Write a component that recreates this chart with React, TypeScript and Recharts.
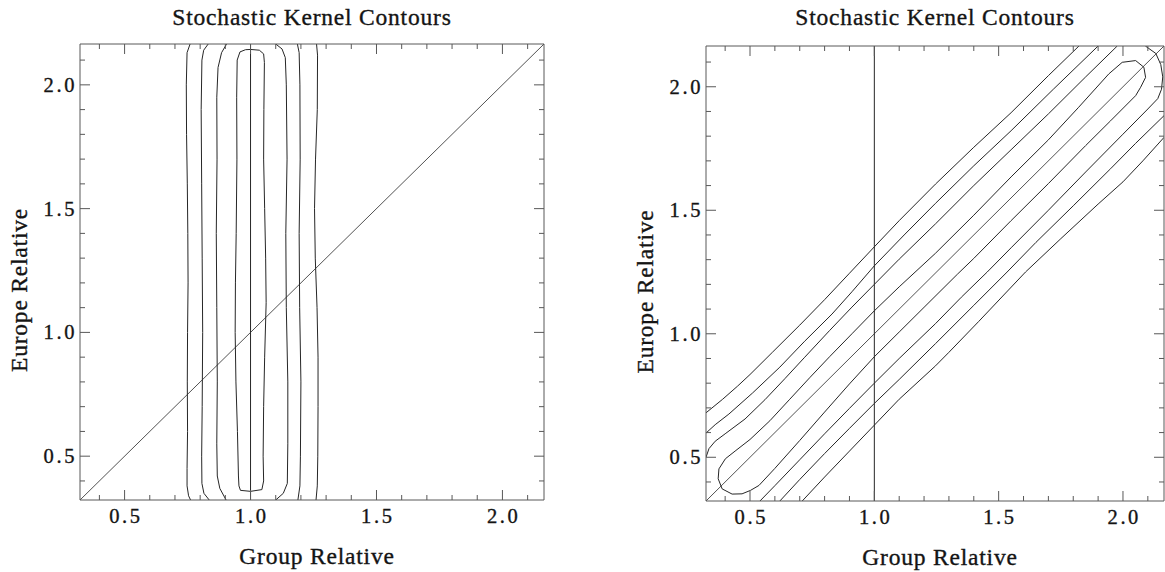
import React from 'react'
import { ComposedChart, Line, XAxis, YAxis, ReferenceLine } from 'recharts'

// both axes share the same range in both panels
const axisMin = 0.323
const axisMax = 2.165
const tickValues = [0.4, 0.5, 0.6, 0.7, 0.8, 0.9, 1.0, 1.1, 1.2, 1.3, 1.4, 1.5, 1.6, 1.7, 1.8, 1.9, 2.0, 2.1]
const labelledTicks = [0.5, 1.0, 1.5, 2.0]
const referenceX = 1.0

const titleText = 'Stochastic Kernel Contours'
const xLabelText = 'Group Relative'
const yLabelText = 'Europe Relative'

// ---- left panel contours ----
const leftOuterWest = [
  { x: 0.760, y: 2.165 }, { x: 0.748, y: 2.13 }, { x: 0.745, y: 2.0 }, { x: 0.746, y: 1.8 },
  { x: 0.749, y: 1.6 }, { x: 0.751, y: 1.4 }, { x: 0.752, y: 1.2 }, { x: 0.750, y: 1.0 },
  { x: 0.749, y: 0.8 }, { x: 0.750, y: 0.6 }, { x: 0.748, y: 0.45 }, { x: 0.748, y: 0.38 },
  { x: 0.754, y: 0.34 }, { x: 0.762, y: 0.323 },
]
const leftOuterEast = [
  { x: 1.262, y: 2.165 }, { x: 1.266, y: 2.12 }, { x: 1.265, y: 1.9 }, { x: 1.258, y: 1.7 },
  { x: 1.254, y: 1.5 }, { x: 1.257, y: 1.3 }, { x: 1.264, y: 1.1 }, { x: 1.268, y: 0.9 },
  { x: 1.268, y: 0.7 }, { x: 1.267, y: 0.5 }, { x: 1.265, y: 0.38 }, { x: 1.26, y: 0.323 },
]
const leftMidWest = [
  { x: 0.832, y: 2.165 }, { x: 0.814, y: 2.14 }, { x: 0.807, y: 2.1 }, { x: 0.804, y: 1.9 },
  { x: 0.806, y: 1.6 }, { x: 0.808, y: 1.3 }, { x: 0.81, y: 1.0 }, { x: 0.808, y: 0.7 },
  { x: 0.806, y: 0.5 }, { x: 0.807, y: 0.39 }, { x: 0.815, y: 0.35 }, { x: 0.836, y: 0.323 },
]
const leftMidEast = [
  { x: 1.186, y: 2.165 }, { x: 1.193, y: 2.13 }, { x: 1.196, y: 2.0 }, { x: 1.197, y: 1.7 },
  { x: 1.193, y: 1.4 }, { x: 1.195, y: 1.1 }, { x: 1.2, y: 0.8 }, { x: 1.198, y: 0.5 },
  { x: 1.196, y: 0.38 }, { x: 1.188, y: 0.323 },
]
const leftInnerWest = [
  { x: 0.905, y: 2.165 }, { x: 0.885, y: 2.13 }, { x: 0.871, y: 2.07 }, { x: 0.866, y: 1.95 },
  { x: 0.867, y: 1.7 }, { x: 0.864, y: 1.4 }, { x: 0.866, y: 1.1 }, { x: 0.868, y: 0.8 },
  { x: 0.866, y: 0.55 }, { x: 0.868, y: 0.42 }, { x: 0.878, y: 0.37 }, { x: 0.903, y: 0.323 },
]
const leftInnerEast = [
  { x: 1.10, y: 2.165 }, { x: 1.125, y: 2.145 }, { x: 1.138, y: 2.11 }, { x: 1.142, y: 2.0 },
  { x: 1.145, y: 1.7 }, { x: 1.14, y: 1.4 }, { x: 1.142, y: 1.1 }, { x: 1.148, y: 0.8 },
  { x: 1.148, y: 0.55 }, { x: 1.146, y: 0.39 }, { x: 1.13, y: 0.35 }, { x: 1.10, y: 0.323 },
]
const leftCore = [
  { x: 1.0, y: 2.143 }, { x: 1.035, y: 2.14 }, { x: 1.052, y: 2.125 }, { x: 1.055, y: 2.09 },
  { x: 1.053, y: 1.9 }, { x: 1.052, y: 1.7 }, { x: 1.056, y: 1.5 }, { x: 1.06, y: 1.3 },
  { x: 1.062, y: 1.12 }, { x: 1.056, y: 0.9 }, { x: 1.052, y: 0.7 }, { x: 1.05, y: 0.5 },
  { x: 1.052, y: 0.4 }, { x: 1.045, y: 0.365 }, { x: 1.0, y: 0.358 }, { x: 0.96, y: 0.362 },
  { x: 0.954, y: 0.38 }, { x: 0.952, y: 0.42 }, { x: 0.948, y: 0.6 }, { x: 0.942, y: 0.8 },
  { x: 0.939, y: 1.0 }, { x: 0.94, y: 1.2 }, { x: 0.943, y: 1.4 }, { x: 0.946, y: 1.7 },
  { x: 0.945, y: 1.95 }, { x: 0.947, y: 2.1 }, { x: 0.958, y: 2.133 }, { x: 0.98, y: 2.142 },
  { x: 1.0, y: 2.143 },
]

// ---- right panel contours ----
const rightOuterUpper = [
  { x: 0.323, y: 0.68 }, { x: 0.39, y: 0.735 }, { x: 0.45, y: 0.788 }, { x: 0.5, y: 0.835 },
  { x: 0.59, y: 0.925 }, { x: 0.7, y: 1.035 }, { x: 0.8, y: 1.138 }, { x: 0.9, y: 1.245 },
  { x: 1.0, y: 1.352 }, { x: 1.1, y: 1.458 }, { x: 1.246, y: 1.606 }, { x: 1.4, y: 1.755 },
  { x: 1.55, y: 1.895 }, { x: 1.7, y: 2.045 }, { x: 1.823, y: 2.165 },
]
const rightMidUpper = [
  { x: 0.323, y: 0.598 }, { x: 0.36, y: 0.632 }, { x: 0.415, y: 0.675 }, { x: 0.51, y: 0.76 },
  { x: 0.62, y: 0.865 }, { x: 0.72, y: 0.97 }, { x: 0.83, y: 1.08 }, { x: 0.91, y: 1.17 },
  { x: 1.0, y: 1.275 }, { x: 1.12, y: 1.4 }, { x: 1.246, y: 1.528 }, { x: 1.4, y: 1.68 },
  { x: 1.55, y: 1.822 }, { x: 1.72, y: 1.99 }, { x: 1.9, y: 2.165 },
]
const rightInnerUpper = [
  { x: 0.323, y: 0.5 }, { x: 0.335, y: 0.535 }, { x: 0.36, y: 0.565 }, { x: 0.4, y: 0.595 },
  { x: 0.48, y: 0.655 }, { x: 0.56, y: 0.733 }, { x: 0.64, y: 0.818 }, { x: 0.72, y: 0.905 },
  { x: 0.82, y: 1.013 }, { x: 0.91, y: 1.108 }, { x: 1.0, y: 1.2 }, { x: 1.1, y: 1.302 },
  { x: 1.246, y: 1.445 }, { x: 1.4, y: 1.6 }, { x: 1.55, y: 1.745 }, { x: 1.7, y: 1.89 },
  { x: 1.85, y: 2.04 }, { x: 1.977, y: 2.165 },
]
const rightCore = [
  { x: 0.401, y: 0.494 }, { x: 0.44, y: 0.525 }, { x: 0.5, y: 0.572 }, { x: 0.58, y: 0.648 },
  { x: 0.66, y: 0.735 }, { x: 0.74, y: 0.822 }, { x: 0.82, y: 0.907 }, { x: 0.91, y: 1.0 },
  { x: 1.0, y: 1.093 }, { x: 1.1, y: 1.19 }, { x: 1.246, y: 1.326 }, { x: 1.4, y: 1.48 },
  { x: 1.55, y: 1.635 }, { x: 1.7, y: 1.785 }, { x: 1.82, y: 1.915 }, { x: 1.943, y: 2.052 },
  { x: 1.997, y: 2.099 }, { x: 2.051, y: 2.106 }, { x: 2.084, y: 2.079 }, { x: 2.091, y: 2.038 },
  { x: 2.071, y: 1.998 }, { x: 2.051, y: 1.964 }, { x: 1.95, y: 1.862 }, { x: 1.85, y: 1.762 },
  { x: 1.7, y: 1.608 }, { x: 1.55, y: 1.458 }, { x: 1.4, y: 1.305 }, { x: 1.335, y: 1.242 },
  { x: 1.2, y: 1.107 }, { x: 1.1, y: 1.007 }, { x: 1.0, y: 0.907 }, { x: 0.9, y: 0.797 },
  { x: 0.8, y: 0.683 }, { x: 0.7, y: 0.568 }, { x: 0.6, y: 0.455 }, { x: 0.536, y: 0.386 },
  { x: 0.502, y: 0.366 }, { x: 0.468, y: 0.352 }, { x: 0.428, y: 0.351 }, { x: 0.388, y: 0.372 },
  { x: 0.372, y: 0.413 }, { x: 0.375, y: 0.453 }, { x: 0.401, y: 0.494 },
]
const rightInnerLower = [
  { x: 0.54, y: 0.323 }, { x: 0.6, y: 0.385 }, { x: 0.7, y: 0.49 }, { x: 0.8, y: 0.595 },
  { x: 0.9, y: 0.698 }, { x: 1.0, y: 0.8 }, { x: 1.1, y: 0.9 }, { x: 1.246, y: 1.041 },
  { x: 1.35, y: 1.148 }, { x: 1.454, y: 1.25 }, { x: 1.55, y: 1.348 }, { x: 1.7, y: 1.5 },
  { x: 1.85, y: 1.655 }, { x: 2.0, y: 1.808 }, { x: 2.1, y: 1.91 }, { x: 2.14, y: 1.952 },
  { x: 2.155, y: 1.99 }, { x: 2.16, y: 2.04 }, { x: 2.152, y: 2.09 }, { x: 2.132, y: 2.135 },
  { x: 2.09, y: 2.165 },
]
const rightMidLower = [
  { x: 0.62, y: 0.323 }, { x: 0.7, y: 0.41 }, { x: 0.8, y: 0.515 }, { x: 0.9, y: 0.617 },
  { x: 1.0, y: 0.718 }, { x: 1.1, y: 0.815 }, { x: 1.246, y: 0.96 }, { x: 1.4, y: 1.115 },
  { x: 1.534, y: 1.25 }, { x: 1.65, y: 1.37 }, { x: 1.8, y: 1.518 }, { x: 1.95, y: 1.668 },
  { x: 2.05, y: 1.77 }, { x: 2.165, y: 1.883 },
]
const rightOuterLower = [
  { x: 0.71, y: 0.323 }, { x: 0.8, y: 0.42 }, { x: 0.9, y: 0.525 }, { x: 1.0, y: 0.63 },
  { x: 1.1, y: 0.735 }, { x: 1.246, y: 0.87 }, { x: 1.3, y: 0.925 }, { x: 1.42, y: 1.05 },
  { x: 1.608, y: 1.25 }, { x: 1.75, y: 1.385 }, { x: 1.9, y: 1.525 }, { x: 2.0, y: 1.615 },
  { x: 2.08, y: 1.7 }, { x: 2.165, y: 1.795 },
]

const leftContours = [leftOuterWest, leftOuterEast, leftMidWest, leftMidEast, leftInnerWest, leftInnerEast, leftCore]
const rightContours = [rightOuterUpper, rightMidUpper, rightInnerUpper, rightCore, rightInnerLower, rightMidLower, rightOuterLower]

const FONT = '"Liberation Serif", "Times New Roman", serif'
const INK = '#141414'
const LINE = '#262626'
const FRAME = '#585858'

const isLabelled = (v: number) => labelledTicks.some((t) => Math.abs(t - v) < 1e-6)
const tickLen = (v: number) => (isLabelled(v) ? 10 : 5)

const tickFont = { fontFamily: FONT, fontSize: 20.5, letterSpacing: 2.6, fill: INK, stroke: INK, strokeWidth: 0.35 }

const BottomTick = (props: any) => {
  const { x, y, payload } = props
  const v = payload.value
  return (
    <g>
      <line x1={x} y1={y} x2={x} y2={y - tickLen(v)} stroke={FRAME} />
      {isLabelled(v) && (
        <text x={x + 1.3} y={y + 23} textAnchor="middle" {...tickFont}>
          {v.toFixed(1)}
        </text>
      )}
    </g>
  )
}

const TopTick = (props: any) => {
  const { x, y, payload } = props
  return <line x1={x} y1={y} x2={x} y2={y + tickLen(payload.value)} stroke={FRAME} />
}

const LeftTick = (props: any) => {
  const { x, y, payload } = props
  const v = payload.value
  return (
    <g>
      <line x1={x} y1={y} x2={x + tickLen(v)} y2={y} stroke={FRAME} />
      {isLabelled(v) && (
        <text x={x - 3} y={y + 7} textAnchor="end" {...tickFont}>
          {v.toFixed(1)}
        </text>
      )}
    </g>
  )
}

const RightTick = (props: any) => {
  const { x, y, payload } = props
  return <line x1={x} y1={y} x2={x - tickLen(payload.value)} y2={y} stroke={FRAME} />
}

type Pt = { x: number; y: number }
type Box = { left: number; right: number; top: number; bottom: number }

const labelFont = { fontFamily: FONT, fontSize: 23.5, letterSpacing: 0.8, fill: INK, stroke: INK, strokeWidth: 0.35 }

const Panel = ({ left, width, plot, contours }: { left: number; width: number; plot: Box; contours: Pt[][] }) => {
  const height = 572
  const yAxisWidth = 80
  const margin = {
    left: plot.left - left - yAxisWidth,
    right: left + width - plot.right - 1,
    top: plot.top - 1,
    bottom: 0,
  }
  const cx = (plot.left + plot.right) / 2 - left
  const cy = (plot.top + plot.bottom) / 2
  const axisCommon = {
    type: 'number' as const,
    domain: [axisMin, axisMax],
    allowDataOverflow: true,
    ticks: tickValues,
    interval: 0 as const,
    tickLine: false,
    tickSize: 0,
    tickMargin: 0,
    axisLine: { stroke: FRAME, strokeWidth: 1 },
  }
  return (
    <div style={{ position: 'absolute', left, top: 0, width, height }}>
      <ComposedChart width={width} height={height} margin={margin}>
        <XAxis xAxisId="b" dataKey="x" orientation="bottom" height={height - plot.bottom} tick={<BottomTick />} {...axisCommon} />
        <XAxis xAxisId="t" dataKey="x" orientation="top" height={1} tick={<TopTick />} {...axisCommon} />
        <YAxis yAxisId="l" dataKey="y" orientation="left" width={yAxisWidth} tick={<LeftTick />} {...axisCommon} />
        <YAxis yAxisId="r" dataKey="y" orientation="right" width={1} tick={<RightTick />} {...axisCommon} />
        <ReferenceLine xAxisId="b" yAxisId="l" x={referenceX} stroke={LINE} strokeWidth={1} />
        <ReferenceLine
          xAxisId="b"
          yAxisId="l"
          segment={[{ x: axisMin, y: axisMin }, { x: axisMax, y: axisMax }]}
          stroke={LINE}
          strokeWidth={0.8}
        />
        {contours.map((c, i) => (
          <Line
            key={i}
            xAxisId="b"
            yAxisId="l"
            data={c}
            dataKey="y"
            type="linear"
            dot={false}
            activeDot={false}
            stroke={LINE}
            strokeWidth={1}
            isAnimationActive={false}
          />
        ))}
      </ComposedChart>
      <svg width={width} height={height} style={{ position: 'absolute', left: 0, top: 0, pointerEvents: 'none' }}>
        <text x={cx} y={25} textAnchor="middle" {...labelFont}>
          {titleText}
        </text>
        <text x={cx + 5} y={plot.bottom + 64} textAnchor="middle" {...labelFont}>
          {xLabelText}
        </text>
        <text
          transform={`translate(${plot.left - left - 53}, ${cy + 18}) rotate(-90)`}
          textAnchor="middle"
          {...labelFont}
        >
          {yLabelText}
        </text>
      </svg>
    </div>
  )
}

export default function App() {
  return (
    <div style={{ position: 'absolute', left: 0, top: 0, width: 1165, height: 572, background: '#fff' }}>
      <Panel left={0} width={560} plot={{ left: 80, right: 544, top: 44, bottom: 500 }} contours={leftContours} />
      <Panel left={580} width={585} plot={{ left: 706, right: 1164, top: 46, bottom: 501 }} contours={rightContours} />
    </div>
  )
}
